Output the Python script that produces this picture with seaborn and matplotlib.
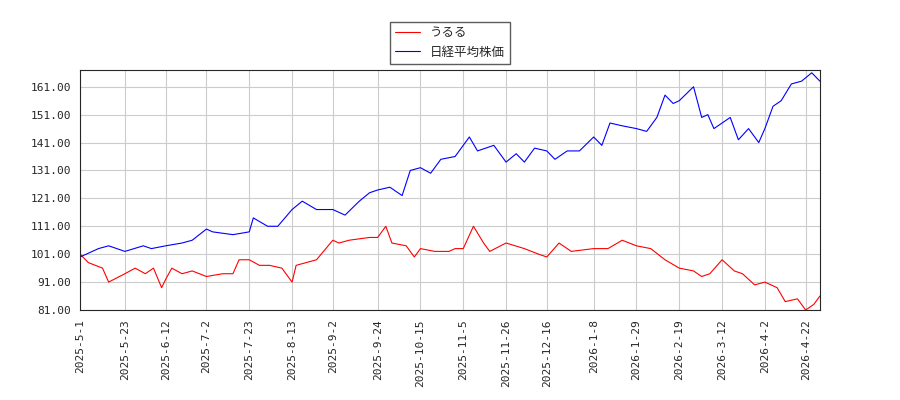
import numpy as np
import pandas as pd
import matplotlib
matplotlib.use("Agg")
import matplotlib.pyplot as plt
import seaborn as sns

sns.set_style("white")
plt.rcParams['font.family'] = ['Noto Sans CJK JP', 'DejaVu Sans']

blue_dates = ["2025-5-1", "2025-5-10", "2025-5-15", "2025-5-23", "2025-6-1", "2025-6-5", "2025-6-12",
              "2025-6-20", "2025-6-25", "2025-7-2", "2025-7-5", "2025-7-15", "2025-7-23", "2025-7-25",
              "2025-8-1", "2025-8-6", "2025-8-13", "2025-8-18", "2025-8-25", "2025-9-2", "2025-9-8",
              "2025-9-15", "2025-9-20", "2025-9-24", "2025-9-30", "2025-10-6", "2025-10-10", "2025-10-15",
              "2025-10-20", "2025-10-25", "2025-11-1", "2025-11-5", "2025-11-8", "2025-11-12", "2025-11-20",
              "2025-11-26", "2025-12-1", "2025-12-5", "2025-12-10", "2025-12-16", "2025-12-20", "2025-12-26",
              "2026-1-1", "2026-1-8", "2026-1-12", "2026-1-16", "2026-1-22", "2026-1-29", "2026-2-3",
              "2026-2-8", "2026-2-12", "2026-2-16", "2026-2-19", "2026-2-26", "2026-3-2", "2026-3-5",
              "2026-3-8", "2026-3-12", "2026-3-16", "2026-3-20", "2026-3-25", "2026-3-30", "2026-4-2",
              "2026-4-6", "2026-4-10", "2026-4-15", "2026-4-20", "2026-4-25", "2026-4-29"]
blue_vals = [100, 103, 104, 102, 104, 103, 104, 105, 106, 110, 109, 108, 109, 114, 111, 111, 117, 120,
             117, 117, 115, 120, 123, 124, 125, 122, 131, 132, 130, 135, 136, 140, 143, 138, 140, 134,
             137, 134, 139, 138, 135, 138, 138, 143, 140, 148, 147, 146, 145, 150, 158, 155, 156, 161,
             150, 151, 146, 148, 150, 142, 146, 141, 146, 154, 156, 162, 163, 166, 163]

red_dates = ["2025-5-1", "2025-5-5", "2025-5-12", "2025-5-15", "2025-5-23", "2025-5-28", "2025-6-2",
             "2025-6-6", "2025-6-10", "2025-6-12", "2025-6-15", "2025-6-20", "2025-6-25", "2025-7-2",
             "2025-7-10", "2025-7-15", "2025-7-18", "2025-7-23", "2025-7-28", "2025-8-2", "2025-8-8",
             "2025-8-13", "2025-8-15", "2025-8-25", "2025-9-2", "2025-9-5", "2025-9-10", "2025-9-20",
             "2025-9-24", "2025-9-28", "2025-10-1", "2025-10-8", "2025-10-12", "2025-10-15", "2025-10-22",
             "2025-10-29", "2025-11-1", "2025-11-5", "2025-11-10", "2025-11-15", "2025-11-18", "2025-11-26",
             "2025-12-5", "2025-12-12", "2025-12-16", "2025-12-22", "2025-12-28", "2026-1-8", "2026-1-15",
             "2026-1-22", "2026-1-29", "2026-2-5", "2026-2-12", "2026-2-19", "2026-2-26", "2026-3-2",
             "2026-3-6", "2026-3-12", "2026-3-18", "2026-3-22", "2026-3-28", "2026-4-2", "2026-4-8",
             "2026-4-12", "2026-4-18", "2026-4-22", "2026-4-26", "2026-4-29"]
red_vals = [101, 98, 96, 91, 94, 96, 94, 96, 89, 92, 96, 94, 95, 93, 94, 94, 99, 99, 97, 97, 96, 91,
            97, 99, 106, 105, 106, 107, 107, 111, 105, 104, 100, 103, 102, 102, 103, 103, 111, 105,
            102, 105, 103, 101, 100, 105, 102, 103, 103, 106, 104, 103, 99, 96, 95, 93, 94, 99, 95,
            94, 90, 91, 89, 84, 85, 81, 83, 86]

tick_labels = ["2025-5-1", "2025-5-23", "2025-6-12", "2025-7-2", "2025-7-23", "2025-8-13", "2025-9-2",
               "2025-9-24", "2025-10-15", "2025-11-5", "2025-11-26", "2025-12-16", "2026-1-8",
               "2026-1-29", "2026-2-19", "2026-3-12", "2026-4-2", "2026-4-22"]
y_ticks = [81, 91, 101, 111, 121, 131, 141, 151, 161]

red = pd.DataFrame({"date": pd.to_datetime(red_dates), "v": red_vals})
blue = pd.DataFrame({"date": pd.to_datetime(blue_dates), "v": blue_vals})

fig = plt.figure(figsize=(9, 4), dpi=100)
ax = fig.add_axes([0.089, 0.225, 0.822, 0.6])
sns.lineplot(data=red, x="date", y="v", color="red", lw=0.8, ax=ax, label="うるる")
sns.lineplot(data=blue, x="date", y="v", color="blue", lw=0.8, ax=ax, label="日経平均株価")

ax.set_xticks(pd.to_datetime(tick_labels))
ax.set_xticklabels(tick_labels, rotation=90, fontsize=8, family="DejaVu Sans Mono")
ax.set_yticks(y_ticks)
ax.set_yticklabels([f"{v:.2f}" for v in y_ticks], fontsize=8, family="DejaVu Sans Mono")
ax.set_xlim(pd.Timestamp("2025-5-1"), pd.Timestamp("2026-4-29"))
ax.set_ylim(81, 167)
ax.grid(True, color="#cccccc", lw=0.8)
ax.set_xlabel("")
ax.set_ylabel("")
ax.tick_params(length=3)
ax.legend(loc="lower center", bbox_to_anchor=(0.5, 1.0), fontsize=9, frameon=True,
          edgecolor="#333333", fancybox=False)
fig.savefig("out.png")
